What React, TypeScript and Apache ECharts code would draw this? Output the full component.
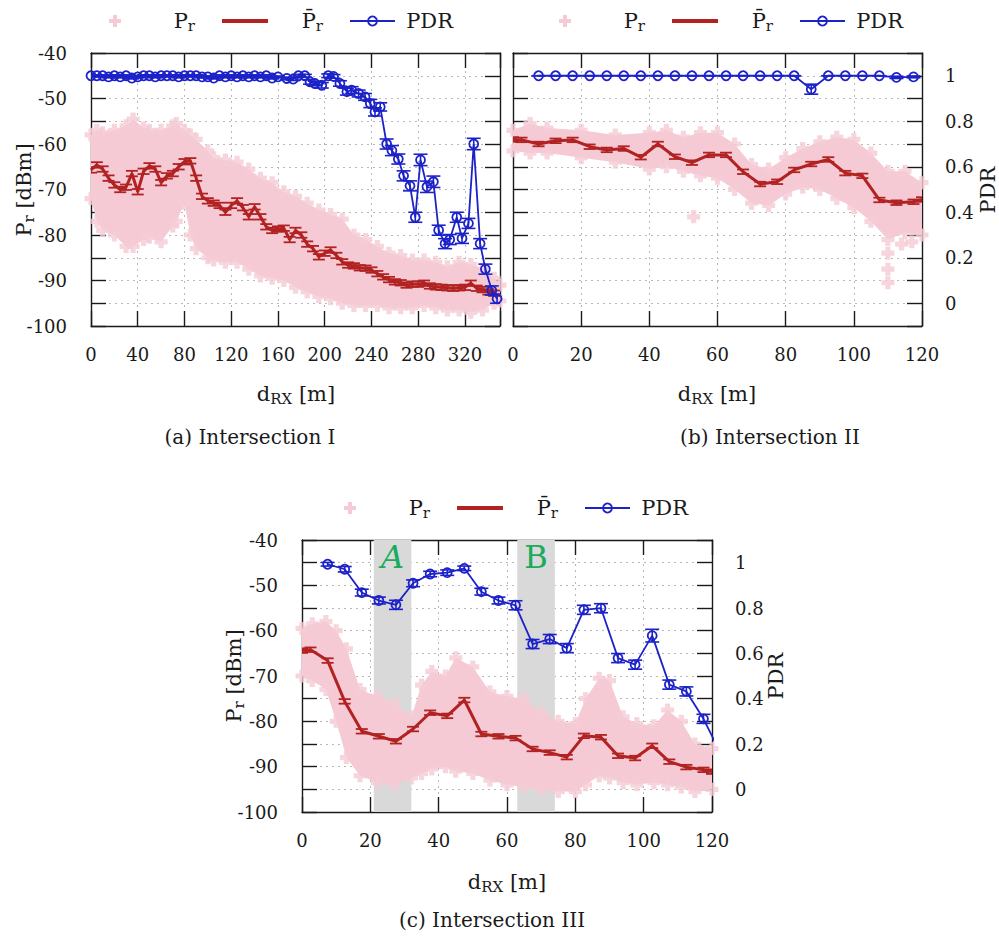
import React, { useEffect, useRef } from "react";
import * as echarts from "echarts";

const FONT = "DejaVu Serif";
const PINK = "#f5cad4";
const RED = "#b22222";
const BLUE = "#1c22c8";
const GREEN = "#1aab5c";
const GRIDC = "#b8b8b8";
const TEXT = "#1a1a1a";
const BAND = "#d9d9d9";

// ---------- Panel (a) Intersection I ----------
const MEAN_A_X = [0,5,10,15,20,25,30,35,40,45,50,55,60,65,70,75,80,85,90,95,100,105,110,115,120,125,130,135,140,145,150,155,160,165,170,175,180,185,190,195,200,205,210,215,220,225,230,235,240,245,250,255,260,265,270,275,280,285,290,295,300,305,310,315,320,325,330,335,340,345];
const MEAN_A_Y = [-65.7,-64.6,-65.5,-67.5,-69,-70,-69.5,-66.5,-70.5,-66,-64.8,-65.5,-68.5,-67,-66.5,-65,-63.9,-63.7,-67.5,-71.5,-72.5,-73,-73.5,-75,-73.5,-72.5,-74,-76,-73.8,-76,-78.2,-79,-78.7,-78.5,-81,-79,-80,-82,-83,-84.8,-84,-83.3,-84.5,-85.9,-86.6,-86.8,-87.2,-87.3,-87.7,-88.5,-89.2,-89.8,-90.3,-90.5,-91,-90.8,-90.8,-90.6,-91.2,-91.4,-91.5,-91.6,-91.7,-91.6,-91.5,-90.6,-91.7,-92,-92.5,-92.8];
const MEAN_ERR_A = 0.6;
const PDR_A_X = [0,5,10,15,20,25,30,35,40,45,50,55,60,65,70,75,80,85,90,95,100,105,110,115,120,125,130,135,140,145,150,155,160,167.5,173,177.5,183,187.5,191.5,197.5,203,207.5,213,219,223,229,234.5,239,243,247.5,253,257.5,263,267.5,273,277.5,282,287.5,293,297.5,303,307,313,317.5,323,327.5,333,337.5,343,347.5];
const PDR_A_Y = [1,1,1,0.995,1,0.995,1,0.99,0.995,1,1,0.995,1,1,1,0.995,1,1,1,0.995,0.995,0.99,1,0.995,1,0.995,1,0.995,1,0.995,1,0.99,0.995,0.988,0.985,1,1,0.973,0.966,0.958,1,0.997,0.966,0.93,0.937,0.922,0.907,0.878,0.841,0.863,0.7,0.671,0.634,0.56,0.516,0.378,0.63,0.512,0.534,0.321,0.262,0.28,0.378,0.285,0.351,0.7,0.262,0.15,0.056,0.02];
const PDR_A_E = [0.004,0.004,0.004,0.004,0.004,0.004,0.004,0.004,0.004,0.004,0.004,0.004,0.004,0.004,0.004,0.004,0.004,0.004,0.004,0.004,0.004,0.004,0.004,0.004,0.004,0.004,0.004,0.004,0.004,0.004,0.004,0.004,0.004,0.006,0.006,0.006,0.006,0.01,0.01,0.012,0.008,0.008,0.012,0.015,0.015,0.015,0.015,0.018,0.018,0.018,0.022,0.022,0.022,0.022,0.022,0.022,0.025,0.025,0.025,0.022,0.022,0.022,0.022,0.022,0.022,0.025,0.022,0.022,0.02,0.02];
const ENV_A_X = [0,5,10,20,30,36,45,50,60,70,73,80,85,90,100,105,115,125,135,145,155,165,175,185,195,205,215,225,235,245,255,265,275,285,295,305,315,325,335,345,350];
const ENV_A_HI = [-58,-57,-57.5,-57,-56,-54.5,-56.5,-57,-57,-56,-55.5,-57,-58,-59,-61.5,-63,-63.5,-64,-65.5,-67.5,-68.5,-70.5,-71.5,-73,-74.5,-75.5,-76.5,-80,-81,-82.5,-84,-84.5,-85.5,-85.5,-86,-87,-86,-86.5,-87.5,-89.5,-91];
const ENV_A_LO = [-72,-77,-79,-80,-82.5,-82.5,-81,-80.5,-81.5,-78,-77,-73,-80,-83,-85,-85.5,-86,-86,-87.5,-89,-89.5,-90,-91.5,-92.5,-93.5,-94,-95,-95.5,-95.5,-95.5,-96,-96,-96,-95.5,-96,-96.5,-96.5,-97,-96.5,-95,-94.5];
const OUT_A_X: number[] = [];
const OUT_A_Y: number[] = [];

// ---------- Panel (b) Intersection II ----------
const MEAN_B_X = [0,2.5,7.5,12.5,17.5,22.5,27.5,32.5,37.5,42.5,47.5,52.5,57.5,62.5,67.5,72.5,77.5,82.5,87.5,92.5,97.5,102.5,107.5,112.5,117.5,120];
const MEAN_B_Y = [-59,-59.1,-60,-59.3,-59.1,-60.6,-61.3,-61,-62.9,-60,-62.8,-64.1,-62.4,-62.4,-66.1,-68.8,-68.3,-65.7,-64.4,-63.4,-66.4,-67,-72.3,-72.9,-72.7,-72.2];
const MEAN_ERR_B = 0.5;
const PDR_B_X = [7.5,12.5,17.5,22.5,27.5,32.5,37.5,42.5,47.5,52.5,57.5,62.5,67.5,72.5,77.5,82.5,87.5,92.5,97.5,102.5,107.5,112.5,117.5];
const PDR_B_Y = [1,1,1,1,1,1,1,1,1,1,1,1,1,1,1,1,0.941,1,1,1,1,0.993,0.995];
const PDR_B_E = [0,0,0,0,0,0,0,0,0,0,0,0,0,0,0,0,0.022,0,0,0,0,0.005,0.004];
const ENV_B_X = [0,5,10,20,30,40,45,50,55,60,65,70,75,80,85,90,95,100,105,110,115,120];
const ENV_B_HI = [-57,-55.5,-56.5,-57,-58,-57.5,-57,-58.5,-57.5,-57.5,-60,-64.5,-65.5,-63,-61,-59.5,-58.5,-59,-62,-66,-66,-68.5];
const ENV_B_LO = [-61.5,-62,-62,-63,-64,-65.5,-65,-66,-67,-67.5,-70,-73,-73.5,-71,-69.5,-70,-72,-74,-77,-81,-79.5,-80];
const OUT_B_X = [53,110,110,110,114,117];
const OUT_B_Y = [-76,-84,-87.5,-90.5,-82,-81.5];

// ---------- Panel (c) Intersection III ----------
const MEAN_C_X = [0,2.5,7.5,12.5,17.5,22.5,27.5,32.5,37.5,42.5,47.5,52.5,57.5,62.5,67.5,72.5,77.5,82.5,87.5,92.5,97.5,102.5,107.5,112.5,117.5,120];
const MEAN_C_Y = [-64.4,-64.2,-66.6,-75.6,-82.2,-83.3,-84.4,-81.7,-78.1,-78.8,-75.3,-82.8,-83.3,-83.7,-86.1,-86.9,-87.9,-83.2,-83.5,-87.6,-88.1,-85.4,-88.9,-90.1,-90.7,-91.1];
const MEAN_ERR_C = 0.5;
const PDR_C_X = [7.5,12.5,17.5,22.5,27.5,32.5,37.5,42.5,47.5,52.5,57.5,62.5,67.5,72.5,77.5,82.5,87.5,92.5,97.5,102.5,107.5,112.5,117.5,122.5];
const PDR_C_Y = [0.993,0.971,0.868,0.833,0.814,0.909,0.95,0.956,0.975,0.872,0.833,0.812,0.641,0.663,0.623,0.792,0.799,0.579,0.55,0.678,0.462,0.432,0.311,0.16];
const PDR_C_E = [0.008,0.012,0.015,0.015,0.02,0.015,0.012,0.012,0.01,0.015,0.015,0.02,0.02,0.02,0.02,0.02,0.02,0.02,0.02,0.028,0.02,0.02,0.02,0.02];
const ENV_C_X = [0,3,7,10,13,17,22,27,32,35,38,42,45,50,55,60,65,70,75,80,83,87,90,94,98,103,107,111,115,120];
const ENV_C_HI = [-59.5,-58.5,-58,-60,-64,-73,-74.5,-76,-79,-72,-69,-70,-66,-68,-73.5,-74.5,-75,-78,-80,-80.5,-75,-70.5,-71,-79,-80.5,-81,-77.5,-80,-85,-86];
const ENV_C_LO = [-70,-71,-73,-80,-88,-92,-93.5,-94,-92.5,-91.5,-90.5,-90,-91,-91.5,-93,-94,-94.5,-95,-95.5,-95.5,-94,-92,-92.5,-93.5,-94,-93.5,-94,-94.5,-95.5,-95];
const OUT_C_X: number[] = [];
const OUT_C_Y: number[] = [];
const SHADE_A = [21, 32];
const SHADE_B = [63, 74];

// axis ranges / ticks
const X_MAX = [350, 120, 120];
const X_INT = [40, 20, 20];
const DBM_MIN = -100, DBM_MAX = -40, DBM_TICK = 5, DBM_LABEL = 10;
const PDR_MIN = -0.1, PDR_MAX = 1.1, PDR_TICK = 0.1;

const PLUS = "path://M3,0h4v3h3v4h-3v3h-4v-3h-3v-4h3z";

const GRIDS = [
  { left: 91, top: 53, width: 409, height: 273 },
  { left: 513, top: 53, width: 409, height: 273 },
  { left: 302, top: 540, width: 410, height: 272 },
];

const RICH = {
  n: { fontFamily: FONT, fontSize: 21, fill: TEXT },
  s: { fontFamily: FONT, fontSize: 15, fill: TEXT, padding: [10, 0, 0, 0] },
};

const lineSt = { color: "#1a1a1a", width: 1.4 };
const labelBase = { fontFamily: FONT, fontSize: 18, color: TEXT };

function errRender(color: string, width: number, hw: number) {
  return (params: any, api: any) => {
    const x = api.value(0), y = api.value(1), e = api.value(2);
    const cs = params.coordSys;
    const c = api.coord([x, y]);
    if (c[0] < cs.x - 1 || c[0] > cs.x + cs.width + 1) return null;
    const t = api.coord([x, y + e]);
    const b = api.coord([x, y - e]);
    const st = { stroke: color, lineWidth: width };
    return {
      type: "group",
      children: [
        { type: "line", shape: { x1: t[0], y1: t[1], x2: b[0], y2: b[1] }, style: st },
        { type: "line", shape: { x1: t[0] - hw, y1: t[1], x2: t[0] + hw, y2: t[1] }, style: st },
        { type: "line", shape: { x1: b[0] - hw, y1: b[1], x2: b[0] + hw, y2: b[1] }, style: st },
      ],
    };
  };
}

function buildOption() {
  const panels = [
    { ex: ENV_A_X, hi: ENV_A_HI, lo: ENV_A_LO, ox: OUT_A_X, oy: OUT_A_Y, mx: MEAN_A_X, my: MEAN_A_Y, me: MEAN_ERR_A, px: PDR_A_X, py: PDR_A_Y, pe: PDR_A_E, leftLab: true, rightLab: false },
    { ex: ENV_B_X, hi: ENV_B_HI, lo: ENV_B_LO, ox: OUT_B_X, oy: OUT_B_Y, mx: MEAN_B_X, my: MEAN_B_Y, me: MEAN_ERR_B, px: PDR_B_X, py: PDR_B_Y, pe: PDR_B_E, leftLab: false, rightLab: true },
    { ex: ENV_C_X, hi: ENV_C_HI, lo: ENV_C_LO, ox: OUT_C_X, oy: OUT_C_Y, mx: MEAN_C_X, my: MEAN_C_Y, me: MEAN_ERR_C, px: PDR_C_X, py: PDR_C_Y, pe: PDR_C_E, leftLab: true, rightLab: true },
  ];
  const xAxis: any[] = [];
  const yAxis: any[] = [];
  const series: any[] = [];
  panels.forEach((p, gi) => {
    const xInt = X_INT[gi];
    xAxis.push({
      type: "value", gridIndex: gi, position: "bottom", min: 0, max: X_MAX[gi], interval: xInt,
      axisLine: { show: true, onZero: false, lineStyle: lineSt },
      axisTick: { show: true, inside: true, length: 15, lineStyle: lineSt },
      axisLabel: { ...labelBase, margin: 19, showMinLabel: true, showMaxLabel: true,
        formatter: (v: number) => (Math.round(v) % xInt === 0 ? String(Math.round(v)) : "") },
      splitLine: { show: true, lineStyle: { color: GRIDC, type: [2, 4], width: 1 } },
    });
    xAxis.push({
      type: "value", gridIndex: gi, position: "top", min: 0, max: X_MAX[gi], interval: xInt,
      axisLine: { show: true, onZero: false, lineStyle: lineSt },
      axisTick: { show: true, inside: true, length: 15, lineStyle: lineSt },
      axisLabel: { show: false }, splitLine: { show: false },
    });
    yAxis.push({
      type: "value", gridIndex: gi, position: "left", min: DBM_MIN, max: DBM_MAX, interval: DBM_TICK,
      axisLine: { show: true, onZero: false, lineStyle: lineSt },
      axisTick: { show: true, inside: true, length: 15, lineStyle: lineSt },
      axisLabel: { ...labelBase, show: p.leftLab, margin: 24, padding: [7, 0, 0, 0], showMinLabel: true, showMaxLabel: true,
        formatter: (v: number) => (Math.round(v) % DBM_LABEL === 0 ? String(Math.round(v)) : "") },
      splitLine: { show: true, lineStyle: { color: GRIDC, type: [2, 4], width: 1 } },
    });
    yAxis.push({
      type: "value", gridIndex: gi, position: "right", min: PDR_MIN, max: PDR_MAX, interval: PDR_TICK,
      axisLine: { show: true, onZero: false, lineStyle: lineSt },
      axisTick: { show: true, inside: true, length: 15, lineStyle: lineSt },
      axisLabel: { ...labelBase, show: p.rightLab, margin: 23, align: "left", padding: [7, 0, 0, 0],
        formatter: (v: number) => {
          const r = Math.round(v * 10);
          if (r < 0 || r > 10 || r % 2 !== 0) return "";
          return r === 0 ? "0" : r === 10 ? "1" : "0." + r;
        } },
      splitLine: { show: false },
    });
    const xi = gi * 2, yl = gi * 2, yr = gi * 2 + 1;
    const EX = p.ex, HI = p.hi, LO = p.lo;
    if (gi === 2) {
      series.push({
        type: "line", xAxisIndex: xi, yAxisIndex: yl, z: 0, silent: true,
        data: [[SHADE_A[0], -200]], symbol: "none", lineStyle: { width: 0 },
        markArea: {
          silent: true, itemStyle: { color: BAND },
          label: { show: true, position: "insideTop", distance: 1, color: GREEN, fontFamily: FONT, fontSize: 32 },
          data: [
            [{ xAxis: SHADE_A[0], name: "A", label: { fontStyle: "italic" } }, { xAxis: SHADE_A[1] }],
            [{ xAxis: SHADE_B[0], name: "B" }, { xAxis: SHADE_B[1] }],
          ],
        },
      });
    }
    series.push({
      type: "custom", xAxisIndex: xi, yAxisIndex: yl, z: 1, silent: true,
      data: EX.map((x, i) => [x, HI[i], LO[i]]),
      encode: { x: 0, y: [1, 2] },
      renderItem: (params: any, api: any) => {
        if (params.dataIndex !== 0) return null;
        const pts: number[][] = [];
        for (let i = 0; i < EX.length; i++) pts.push(api.coord([EX[i], HI[i]]));
        for (let i = EX.length - 1; i >= 0; i--) pts.push(api.coord([EX[i], LO[i]]));
        return { type: "polygon", shape: { points: pts }, style: { fill: PINK } };
      },
    });
    const marks: number[][] = [];
    EX.forEach((x, i) => { marks.push([x, HI[i]]); marks.push([x, LO[i]]); });
    p.ox.forEach((x, i) => marks.push([x, p.oy[i]]));
    series.push({
      type: "scatter", xAxisIndex: xi, yAxisIndex: yl, z: 1, silent: true,
      symbol: PLUS, symbolSize: 13, itemStyle: { color: PINK }, data: marks,
    });
    series.push({
      type: "line", xAxisIndex: xi, yAxisIndex: yl, z: 3, silent: true,
      data: p.mx.map((x, i) => [x, p.my[i]]), symbol: "none",
      lineStyle: { color: RED, width: 3 },
    });
    series.push({
      type: "custom", xAxisIndex: xi, yAxisIndex: yl, z: 3, silent: true, clip: true,
      data: p.mx.map((x, i) => [x, p.my[i], p.me]), encode: { x: 0, y: 1 },
      renderItem: errRender(RED, 1.8, 6),
    });
    series.push({
      type: "line", xAxisIndex: xi, yAxisIndex: yr, z: 4, silent: true,
      data: p.px.map((x, i) => [x, p.py[i]]), symbol: "circle", symbolSize: 9,
      itemStyle: { color: "rgba(0,0,0,0)", borderColor: BLUE, borderWidth: 1.8 },
      lineStyle: { color: BLUE, width: 1.8 },
    });
    series.push({
      type: "custom", xAxisIndex: xi, yAxisIndex: yr, z: 4, silent: true, clip: true,
      data: p.px.map((x, i) => [x, p.py[i], p.pe[i]]), encode: { x: 0, y: 1 },
      renderItem: errRender(BLUE, 1.6, 7),
    });
  });

  const legend = (dx: number, y: number) => {
    const cx = 115 + dx;
    const ts = (text: string, x: number) => ({
      type: "text", x, y, silent: true,
      style: { text, rich: RICH, align: "right", verticalAlign: "middle", fill: TEXT },
    });
    return [
      { type: "rect", silent: true, shape: { x: cx - 6, y: y - 2, width: 12, height: 4 }, style: { fill: PINK } },
      { type: "rect", silent: true, shape: { x: cx - 2, y: y - 6, width: 4, height: 12 }, style: { fill: PINK } },
      ts("{n|P}{s|r}", 195 + dx),
      { type: "line", silent: true, shape: { x1: 222 + dx, y1: y, x2: 268 + dx, y2: y }, style: { stroke: RED, lineWidth: 4 } },
      ts("{n|P\u0304}{s|r}", 323 + dx),
      { type: "line", silent: true, shape: { x1: 350 + dx, y1: y, x2: 395 + dx, y2: y }, style: { stroke: BLUE, lineWidth: 1.8 } },
      { type: "circle", silent: true, shape: { cx: 372.5 + dx, cy: y, r: 4.5 }, style: { fill: "none", stroke: BLUE, lineWidth: 1.8 } },
      ts("{n|PDR}", 453 + dx),
    ];
  };
  const rtext = (text: string, x: number, y: number, rot = 0) => ({
    type: "text", x, y, rotation: rot, silent: true,
    style: { text, rich: RICH, align: "center", verticalAlign: "middle", fill: TEXT },
  });
  const caption = (text: string, x: number, y: number) => ({
    type: "text", x, y, silent: true,
    style: { text, fontFamily: FONT, fontSize: 20, fill: TEXT, align: "center", verticalAlign: "middle" },
  });
  const graphic = [
    ...legend(0, 21),
    ...legend(450, 21),
    ...legend(235, 508),
    rtext("{n|P}{s|r}{n| [dBm]}", 24, 190, Math.PI / 2),
    rtext("{n|P}{s|r}{n| [dBm]}", 234, 676, Math.PI / 2),
    rtext("{n|PDR}", 988, 190, Math.PI / 2),
    rtext("{n|PDR}", 776, 676, Math.PI / 2),
    rtext("{n|d}{s|RX}{n| [m]}", 296, 394),
    rtext("{n|d}{s|RX}{n| [m]}", 717, 394),
    rtext("{n|d}{s|RX}{n| [m]}", 507, 882),
    caption("(a) Intersection I", 250, 437),
    caption("(b) Intersection II", 770, 437),
    caption("(c) Intersection III", 492, 920),
  ];

  return {
    animation: false,
    backgroundColor: "#fff",
    grid: GRIDS.map((g) => ({ ...g, containLabel: false })),
    xAxis, yAxis, series, graphic,
  };
}

export default function App() {
  const ref = useRef<HTMLDivElement>(null);
  useEffect(() => {
    const chart = echarts.init(ref.current!, undefined, { renderer: "svg" });
    chart.setOption(buildOption() as any);
    return () => chart.dispose();
  }, []);
  return (
    <div
      ref={ref}
      style={{ position: "fixed", left: 0, top: 0, width: 999, height: 939, background: "#fff" }}
    />
  );
}
